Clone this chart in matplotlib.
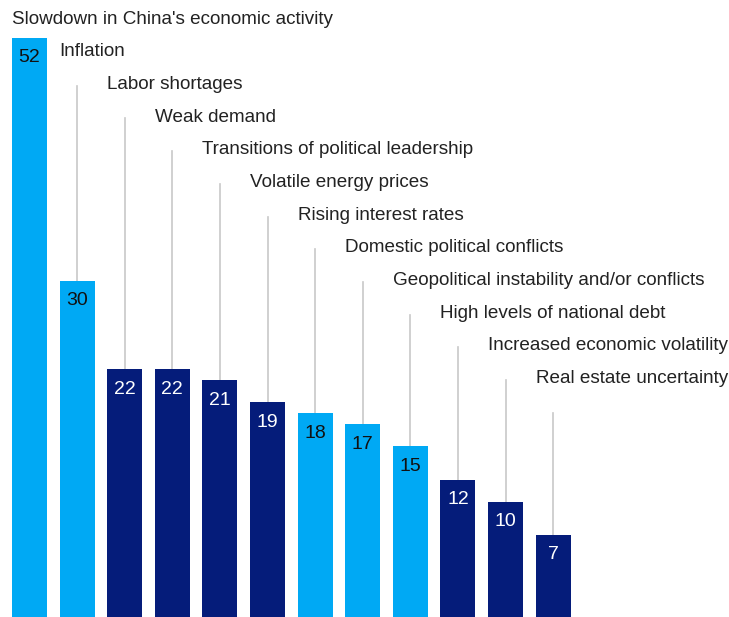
import matplotlib.pyplot as plt

categories = [
    "Slowdown in China's economic activity",
    "Inflation",
    "Labor shortages",
    "Weak demand",
    "Transitions of political leadership",
    "Volatile energy prices",
    "Rising interest rates",
    "Domestic political conflicts",
    "Geopolitical instability and/or conflicts",
    "High levels of national debt",
    "Increased economic volatility",
    "Real estate uncertainty",
]
values = [52, 30, 22, 22, 21, 19, 18, 17, 15, 12, 10, 7]
highlight = [True, True, False, False, False, False, True, True, True, False, False, False]

LIGHT = "#00a9f4"
DARK = "#051c7a"
LINE = "#c8c8c8"
FONT = "Liberation Sans"

W, H = 729, 617
PX = 11.04         # pixels per unit on y
ZERO = 5 / PX      # zero line sits a few px above the bottom edge
STEP = 47.6        # pixels between bars
BAR_W = 35 / STEP
TOP = H / PX - ZERO

fig = plt.figure(figsize=(W / 100, H / 100), dpi=100)
ax = fig.add_axes([0, 0, 1, 1])
ax.set_xlim(-29.5 / STEP, (W - 29.5) / STEP)
ax.set_ylim(-ZERO, TOP)
ax.axis("off")

for i, (cat, v, hl) in enumerate(zip(categories, values, highlight)):
    color = LIGHT if hl else DARK
    ax.bar(i, v + ZERO, bottom=-ZERO, width=BAR_W, color=color, zorder=2)
    ax.text(i, v - 20 / PX, str(v), ha="center", va="center",
            fontsize=14, family=FONT, color="#111111" if hl else "white", zorder=3)
    label_y = TOP - (19 + 32.7 * i) / PX
    ax.text(i - BAR_W / 2, label_y, cat, ha="left", va="center",
            fontsize=13.6, family=FONT, color="#222222")
    if i > 0:
        ax.plot([i, i], [label_y - 34 / PX, v], color=LINE, lw=1.2, zorder=1)

fig.savefig("out.png", dpi=100)
